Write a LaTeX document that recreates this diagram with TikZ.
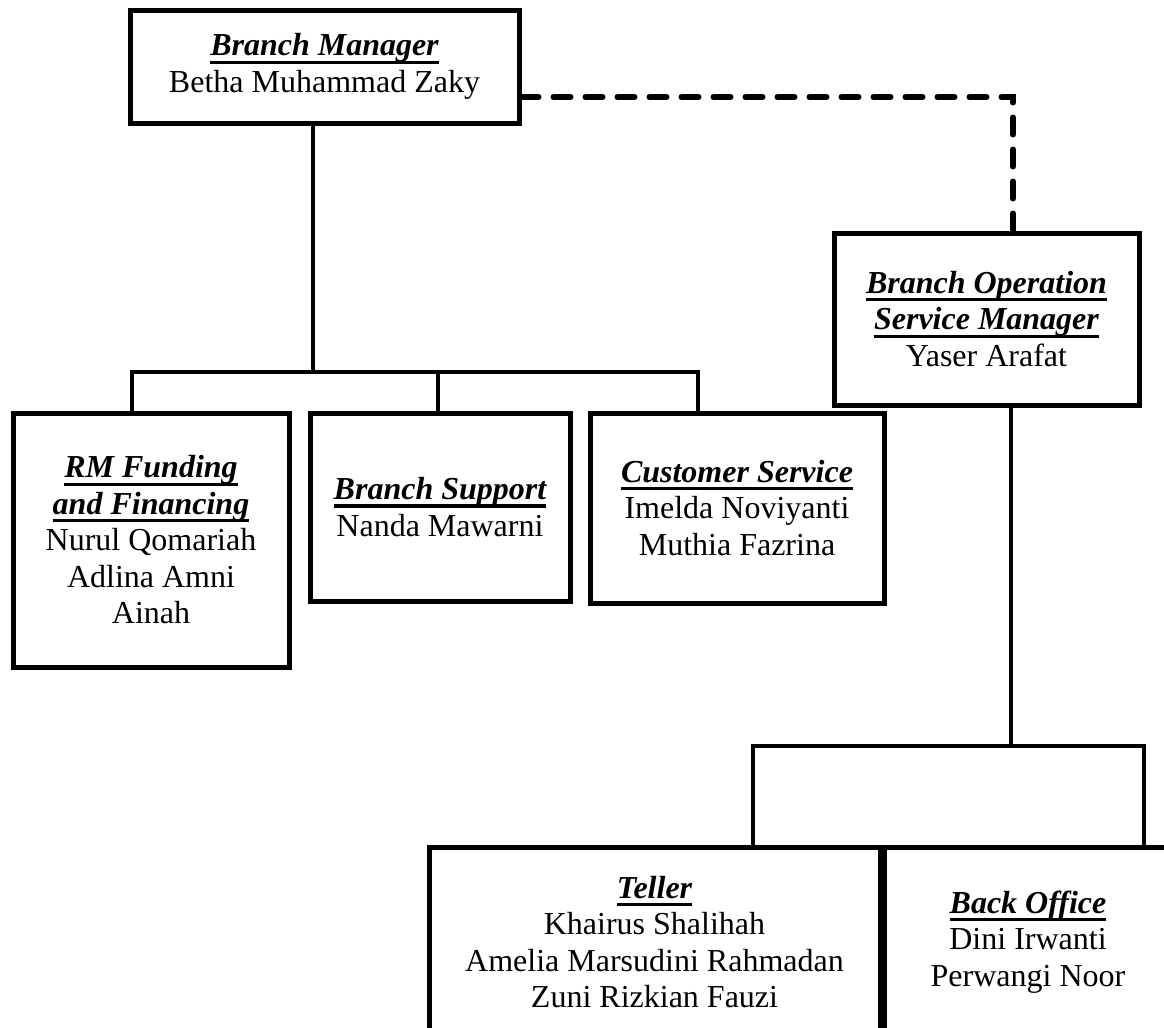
\documentclass[tikz,border=0pt]{standalone}
\usepackage{fontspec}
\setmainfont{Liberation Serif}
\usepackage{tikz}

\newsavebox{\jabbox}
\newcommand{\jabatan}[1]{\sbox{\jabbox}{\bfseries\itshape #1}\leavevmode\rlap{\rule[-4pt]{\wd\jabbox}{1.6pt}}\usebox{\jabbox}}

\tikzset{
  orgbox/.style={draw, rectangle, line width=2.5pt, inner sep=0pt, align=center,
                 font=\fontsize{16}{18.25}\selectfont},
  link/.style={line width=2.3pt, line cap=rect},
  dotlink/.style={line width=3pt, line cap=round, dash pattern=on 8.5pt off 7.5pt},
}

\begin{document}
\begin{tikzpicture}[x=0.5pt, y=-0.5pt]
\useasboundingbox (0,0) rectangle (1164,1028);
\clip (0,0) rectangle (1164,1028);
%%   kw   (name)   (x, y)   {text}
    \node[orgbox, minimum width=194.5pt, minimum height=56.5pt] (bm) at (324.5,66.5)
        {\jabatan{Branch Manager}\\Betha Muhammad Zaky};
    \node[orgbox, minimum width=152.5pt, minimum height=86pt] (bosm) at (986.5,319)
        {\jabatan{Branch Operation}\\\jabatan{Service Manager}\\Yaser Arafat};
    \node[orgbox, minimum width=138pt, minimum height=127pt] (rm) at (151,540)
        {\jabatan{RM Funding}\\\jabatan{and Financing}\\Nurul Qomariah\\Adlina Amni\\Ainah};
    \node[orgbox, minimum width=130pt, minimum height=94pt] (bs) at (440,507)
        {\jabatan{Branch Support}\\Nanda Mawarni};
    \node[orgbox, minimum width=147pt, minimum height=95pt] (cs) at (737,508)
        {\jabatan{Customer Service}\\Imelda Noviyanti\\Muthia Fazrina};
    \node[orgbox, minimum width=225.5pt, minimum height=95pt] (teller) at (654.5,942)
        {\jabatan{Teller}\\Khairus Shalihah\\Amelia Marsudini Rahmadan\\Zuni Rizkian Fauzi};
    \node[orgbox, minimum width=144pt, minimum height=95pt] (bo) at (1028,942)
        {\jabatan{Back Office}\\Dini Irwanti\\Perwangi Noor};

    \coordinate (busL) at (132,372);
    \coordinate (busM) at (313,372);
    \coordinate (busC) at (438,372);
    \coordinate (busR) at (698,372);
    \coordinate (dashrow) at (0,97);
    \coordinate (dashT) at (1013,97);
    \coordinate (bus2L) at (753,746);
    \coordinate (bus2M) at (1011,746);
    \coordinate (bus2R) at (1144,746);

    \draw[link] (bm.south -| busM) -- (busM);
    \draw[link] (busL) -- (busR);
    \draw[link] (busL) -- (busL |- rm.north);
    \draw[link] (busC) -- (busC |- bs.north);
    \draw[link] (busR) -- (busR |- cs.north);
    \draw[dotlink] (bm.east |- dashrow) -- (dashT) -- (dashT |- bosm.north);
    \draw[link] (bosm.south -| bus2M) -- (bus2M);
    \draw[link] (bus2L) -- (bus2R);
    \draw[link] (bus2L) -- (bus2L |- teller.north);
    \draw[link] (bus2R) -- (bus2R |- bo.north);
\end{tikzpicture}
\end{document}
